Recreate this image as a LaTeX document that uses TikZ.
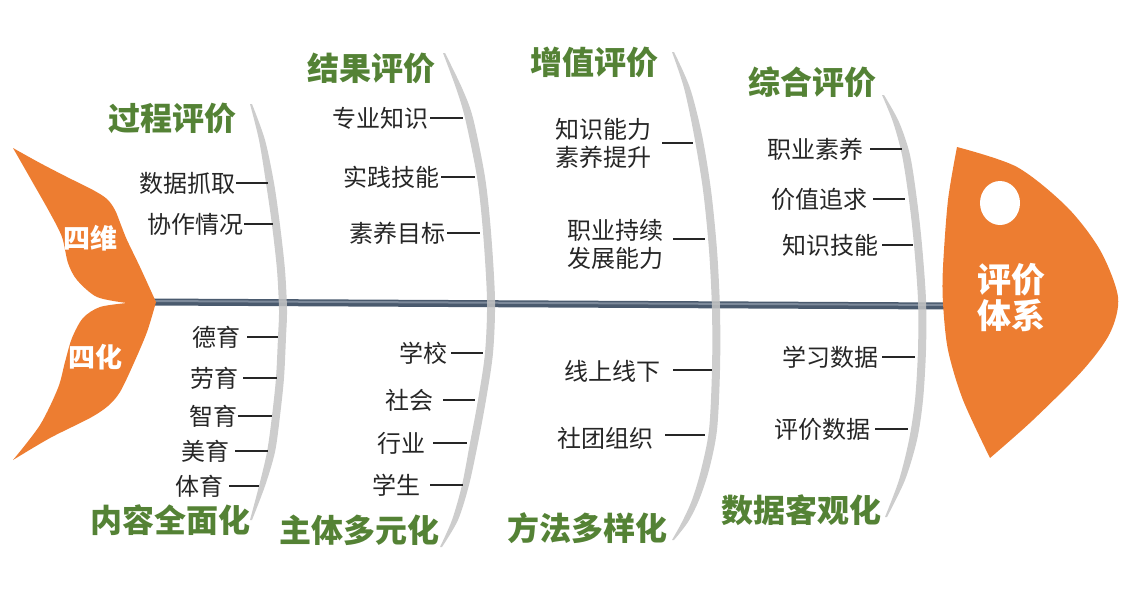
\documentclass[tikz,border=0pt]{standalone}
\usepackage{fontspec}
\setmainfont{Noto Sans CJK SC}
\newfontfamily\heavyfont{Noto Sans CJK SC Black}
\usetikzlibrary{calc}
\definecolor{fishorange}{HTML}{ED7D31}
\definecolor{titlegreen}{HTML}{548235}
\definecolor{spinecol}{HTML}{4A5A6E}
\definecolor{spinehi}{HTML}{7D8A9B}
\definecolor{bonecol}{HTML}{C4C4C4}
\definecolor{itemcol}{HTML}{262626}
\tikzset{
  titletext/.style={text=titlegreen, font=\heavyfont\fontsize{32}{34}\selectfont, inner sep=0pt},
  itemtext/.style={text=itemcol, font=\fontsize{24}{28}\selectfont, inner sep=0pt, anchor=east, align=left},
  tickline/.style={draw=itemcol, line width=2pt},
  bonefill/.style={fill=bonecol, fill opacity=0.85},
  whitetext/.style={text=white, font=\bfseries\fontsize{27}{29}\selectfont, inner sep=0pt},
  headtext/.style={text=white, font=\bfseries\fontsize{34}{36}\selectfont, inner sep=0pt, align=center},
}
\begin{document}
\begin{tikzpicture}[x=1pt,y=-1pt]
\useasboundingbox (0,0) rectangle (1124,590);
% spine
\coordinate (spineL) at (150,302);
\coordinate (spineR) at (950,306);
\draw[spinecol, line width=7pt] (spineL) -- (spineR);
\draw[spinehi, line width=2pt] ($(spineL)+(0,-1)$) -- ($(spineR)+(0,-1)$);
% bones
\fill[bonefill] plot[smooth] coordinates {(250,104) (259,140) (266,183) (272,225) (277,270) (279,310) (278,337) (276,378) (272,416) (267,452) (259,486) (250,520)}
  -- plot[smooth] coordinates {(252,520) (265,486) (275,452) (280,416) (284,378) (286,337) (287,310) (285,270) (280,225) (274,183) (265,140) (252,104)} -- cycle;
\fill[bonefill] plot[smooth] coordinates {(443,53) (456,88) (465,118) (477,177) (483,232) (487,300) (485,353) (478,400) (470,443) (462,485) (452,520) (440,547)}
  -- plot[smooth] coordinates {(442,547) (458,520) (469,485) (478,443) (486,400) (493,353) (495,300) (491,232) (485,177) (473,118) (462,88) (445,53)} -- cycle;
\fill[bonefill] plot[smooth] coordinates {(672,52) (684,88) (694,135) (703,190) (709,250) (712,310) (712,370) (709,430) (701,470) (692,500) (682,522) (672,540)}
  -- plot[smooth] coordinates {(674,540) (688,522) (699,500) (709,470) (717,430) (720,370) (720,310) (717,250) (711,190) (702,135) (690,88) (674,52)} -- cycle;
\fill[bonefill] plot[smooth] coordinates {(882,95) (893,122) (902,155) (909,200) (914,245) (918,300) (918,350) (915,400) (909,440) (899,480) (885,517)}
  -- plot[smooth] coordinates {(887,517) (905,480) (917,440) (923,400) (926,350) (926,300) (922,245) (917,200) (910,155) (899,122) (884,95)} -- cycle;
% tail
\fill[fishorange] plot[smooth] coordinates {(13,148) (40,163) (67,177) (93,190) (107,199) (115,210) (121,225) (127,240) (140,267) (156,302)}
  -- plot[smooth] coordinates {(156,302) (147,332) (133,365) (120,392) (108,406) (90,418) (50,438) (13,460)}
  -- plot[smooth] coordinates {(13,460) (40,425) (58,388) (65,362) (72,338) (83,318) (100,307) (127,303)}
  -- plot[smooth] coordinates {(127,303) (97,297) (77,280) (68,263) (62,237) (50,213) (33,183) (13,148)} -- cycle;
\node[whitetext] (siwei) at (90,238) {四维};
\node[whitetext] (sihua) at (95,357) {四化};
% head
\fill[fishorange] plot[smooth] coordinates {(957,147) (1017,167) (1067,207) (1100,250) (1118,297) (1110,333) (1083,370) (1033,420) (990,458)}
  -- plot[smooth] coordinates {(990,458) (963,400) (948,350) (943,303) (943,267) (948,200) (957,147)} -- cycle;
\fill[white] (1000,203) ellipse [x radius=20pt, y radius=22pt];
\node[headtext] (head) at (1011,298) {评价\\体系};
% titles
\node[titletext] (t1) at (172,118) {过程评价};
\node[titletext] (t2) at (371,68) {结果评价};
\node[titletext] (t3) at (594,62) {增值评价};
\node[titletext] (t4) at (812,82) {综合评价};
\node[titletext] (t5) at (170,520) {内容全面化};
\node[titletext] (t6) at (359,530) {主体多元化};
\node[titletext] (t7) at (587,528) {方法多样化};
\node[titletext] (t8) at (801,510) {数据客观化};
% items bone 1
\node[itemtext] (a1) at (236,183) {数据抓取};
\node[itemtext] (a2) at (244,224) {协作情况};
\node[itemtext] (a3) at (241,337) {德育};
\node[itemtext] (a4) at (239,378) {劳育};
\node[itemtext] (a5) at (238,416) {智育};
\node[itemtext] (a6) at (230,451) {美育};
\node[itemtext] (a7) at (224,486) {体育};
\coordinate (ka1) at (268,183); \coordinate (ka2) at (273,224);
\coordinate (ka3) at (278,337); \coordinate (ka4) at (277,378);
\coordinate (ka5) at (272,416); \coordinate (ka6) at (268,451);
\coordinate (ka7) at (259,486);
\draw[tickline] (a1.east) -- (ka1);
\draw[tickline] (a2.east) -- (ka2);
\draw[tickline] ([xshift=6pt]a3.east) -- (ka3);
\draw[tickline] ([xshift=4pt]a4.east) -- (ka4);
\draw[tickline] (a5.east) -- (ka5);
\draw[tickline] ([xshift=5pt]a6.east) -- (ka6);
\draw[tickline] ([xshift=5pt]a7.east) -- (ka7);
% items bone 2
\node[itemtext] (b1) at (429,118) {专业知识};
\node[itemtext] (b2) at (440,177) {实践技能};
\node[itemtext] (b3) at (446,233) {素养目标};
\node[itemtext] (b4) at (448,353) {学校};
\node[itemtext] (b5) at (434,400) {社会};
\node[itemtext] (b6) at (426,443) {行业};
\node[itemtext] (b7) at (421,485) {学生};
\coordinate (kb1) at (463,118); \coordinate (kb2) at (475,177);
\coordinate (kb3) at (480,233); \coordinate (kb4) at (483,353);
\coordinate (kb5) at (475,400); \coordinate (kb6) at (467,443);
\coordinate (kb7) at (463,485);
\draw[tickline] ([xshift=1pt]b1.east) -- (kb1);
\draw[tickline] ([xshift=1pt]b2.east) -- (kb2);
\draw[tickline] ([xshift=1pt]b3.east) -- (kb3);
\draw[tickline] ([xshift=3pt]b4.east) -- (kb4);
\draw[tickline] ([xshift=9pt]b5.east) -- (kb5);
\draw[tickline] ([xshift=7pt]b6.east) -- (kb6);
\draw[tickline] ([xshift=9pt]b7.east) -- (kb7);
% items bone 3
\node[itemtext] (c1) at (652,143) {知识能力\\素养提升};
\node[itemtext] (c2) at (664,244) {职业持续\\发展能力};
\node[itemtext] (c3) at (661,371) {线上线下};
\node[itemtext] (c4) at (654,438) {社团组织};
\coordinate (kc1) at (693,143); \coordinate (kc2) at (705,239);
\coordinate (kc3) at (712,370); \coordinate (kc4) at (705,435);
\draw[tickline] ([xshift=10pt]c1.east) -- (kc1);
\draw[tickline] ([xshift=9pt]c2.east |- kc2) -- (kc2);
\draw[tickline] ([xshift=12pt]c3.east |- kc3) -- (kc3);
\draw[tickline] ([xshift=11pt]c4.east |- kc4) -- (kc4);
% items bone 4
\node[itemtext] (d1) at (864,149) {职业素养};
\node[itemtext] (d2) at (868,199) {价值追求};
\node[itemtext] (d3) at (879,245) {知识技能};
\node[itemtext] (d4) at (879,357) {学习数据};
\node[itemtext] (d5) at (871,429) {评价数据};
\coordinate (kd1) at (902,149); \coordinate (kd2) at (905,199);
\coordinate (kd3) at (913,245); \coordinate (kd4) at (915,357);
\coordinate (kd5) at (908,429);
\draw[tickline] ([xshift=6pt]d1.east) -- (kd1);
\draw[tickline] ([xshift=5pt]d2.east) -- (kd2);
\draw[tickline] ([xshift=3pt]d3.east) -- (kd3);
\draw[tickline] ([xshift=3pt]d4.east) -- (kd4);
\draw[tickline] ([xshift=4pt]d5.east) -- (kd5);
\end{tikzpicture}
\end{document}
